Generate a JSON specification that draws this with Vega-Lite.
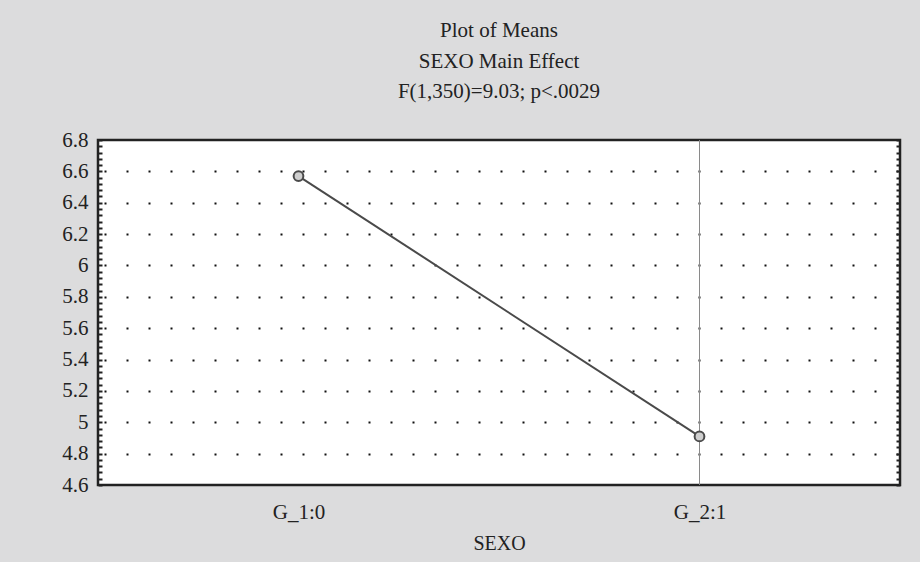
{
  "$schema": "https://vega.github.io/schema/vega-lite/v6.json",
  "autosize": {"type": "none"},
  "width": 802,
  "height": 345,
  "padding": {"left": 98, "top": 140, "right": 20, "bottom": 77},
  "background": "#dcdcdd",
  "title": {
    "text": ["Plot of Means", "SEXO Main Effect", "F(1,350)=9.03; p<.0029"],
    "anchor": "middle",
    "frame": "group",
    "font": "Liberation Serif, Times New Roman, DejaVu Serif, serif",
    "fontSize": 21,
    "fontWeight": "normal",
    "color": "#222",
    "lineHeight": 30.5,
    "offset": 27
  },
  "data": {
    "values": [
      {"SEXO": "G_1:0", "mean": 6.57},
      {"SEXO": "G_2:1", "mean": 4.91}
    ]
  },
  "encoding": {
    "x": {
      "field": "SEXO",
      "type": "ordinal",
      "scale": {"type": "point", "padding": 0.5},
      "axis": {
        "title": "SEXO",
        "labelAngle": 0,
        "labelFontSize": 21,
        "labelFont": "Liberation Serif, Times New Roman, DejaVu Serif, serif",
        "labelColor": "#222",
        "labelPadding": 16,
        "ticks": false,
        "domain": false,
        "grid": false,
        "titleFont": "Liberation Serif, Times New Roman, DejaVu Serif, serif",
        "titleFontSize": 20,
        "titleFontWeight": "normal",
        "titleColor": "#222",
        "titlePadding": 11
      }
    }
  },
  "layer": [
    {
      "transform": [{"filter": "datum.SEXO == 'G_2:1'"}],
      "mark": {"type": "rule", "color": "#8a8a8a", "strokeWidth": 1},
      "encoding": {}
    },
    {
      "mark": {"type": "line", "color": "#4a4a4a", "strokeWidth": 2},
      "encoding": {
        "y": {
          "field": "mean",
          "type": "quantitative",
          "scale": {"domain": [4.6, 6.8], "nice": false, "zero": false},
          "axis": {
            "title": null,
            "orient": "left",
            "offset": -4,
            "values": [4.6,4.64,4.68,4.72,4.76,4.8,4.84,4.88,4.92,4.96,5,5.04,5.08,5.12,5.16,5.2,5.24,5.28,5.32,5.36,5.4,5.44,5.48,5.52,5.56,5.6,5.64,5.68,5.72,5.76,5.8,5.84,5.88,5.92,5.96,6,6.04,6.08,6.12,6.16,6.2,6.24,6.28,6.32,6.36,6.4,6.44,6.48,6.52,6.56,6.6,6.64,6.68,6.72,6.76,6.8],
            "labelExpr": "abs(datum.value*5 - round(datum.value*5)) < 0.001 ? format(datum.value, '~g') : ''",
            "labelOverlap": false,
            "labelFontSize": 21,
            "labelFont": "Liberation Serif, Times New Roman, DejaVu Serif, serif",
            "labelColor": "#222",
            "labelPadding": 10,
            "ticks": true,
            "tickSize": 4,
            "tickWidth": 2,
            "tickColor": "#222",
            "domain": false,
            "grid": true,
            "gridColor": "#111",
            "gridWidth": 2,
            "gridDash": [2, 20],
            "gridDashOffset": -6,
            "gridOpacity": {
              "condition": {"test": "abs(datum.value*5 - round(datum.value*5)) < 0.001 && datum.value > 4.61 && datum.value < 6.79", "value": 1},
              "value": 0
            }
          }
        }
      }
    },
    {
      "mark": {"type": "point", "filled": false, "fill": "#cfcfcf", "fillOpacity": 1, "stroke": "#4a4a4a", "strokeWidth": 2, "size": 95, "opacity": 1},
      "encoding": {
        "y": {
          "field": "mean",
          "type": "quantitative",
          "scale": {"domain": [4.6, 6.8], "nice": false, "zero": false},
          "axis": {
            "title": null,
            "orient": "right",
            "offset": -4,
            "values": [4.6,4.64,4.68,4.72,4.76,4.8,4.84,4.88,4.92,4.96,5,5.04,5.08,5.12,5.16,5.2,5.24,5.28,5.32,5.36,5.4,5.44,5.48,5.52,5.56,5.6,5.64,5.68,5.72,5.76,5.8,5.84,5.88,5.92,5.96,6,6.04,6.08,6.12,6.16,6.2,6.24,6.28,6.32,6.36,6.4,6.44,6.48,6.52,6.56,6.6,6.64,6.68,6.72,6.76,6.8],
            "labels": false,
            "ticks": true,
            "tickSize": 4,
            "tickWidth": 2,
            "tickColor": "#222",
            "domain": false,
            "grid": false
          }
        }
      }
    }
  ],
  "resolve": {"axis": {"y": "independent"}},
  "config": {
    "font": "Liberation Serif, Times New Roman, DejaVu Serif, serif",
    "view": {"stroke": "#222", "strokeWidth": 2.5, "fill": "white"}
  }
}
